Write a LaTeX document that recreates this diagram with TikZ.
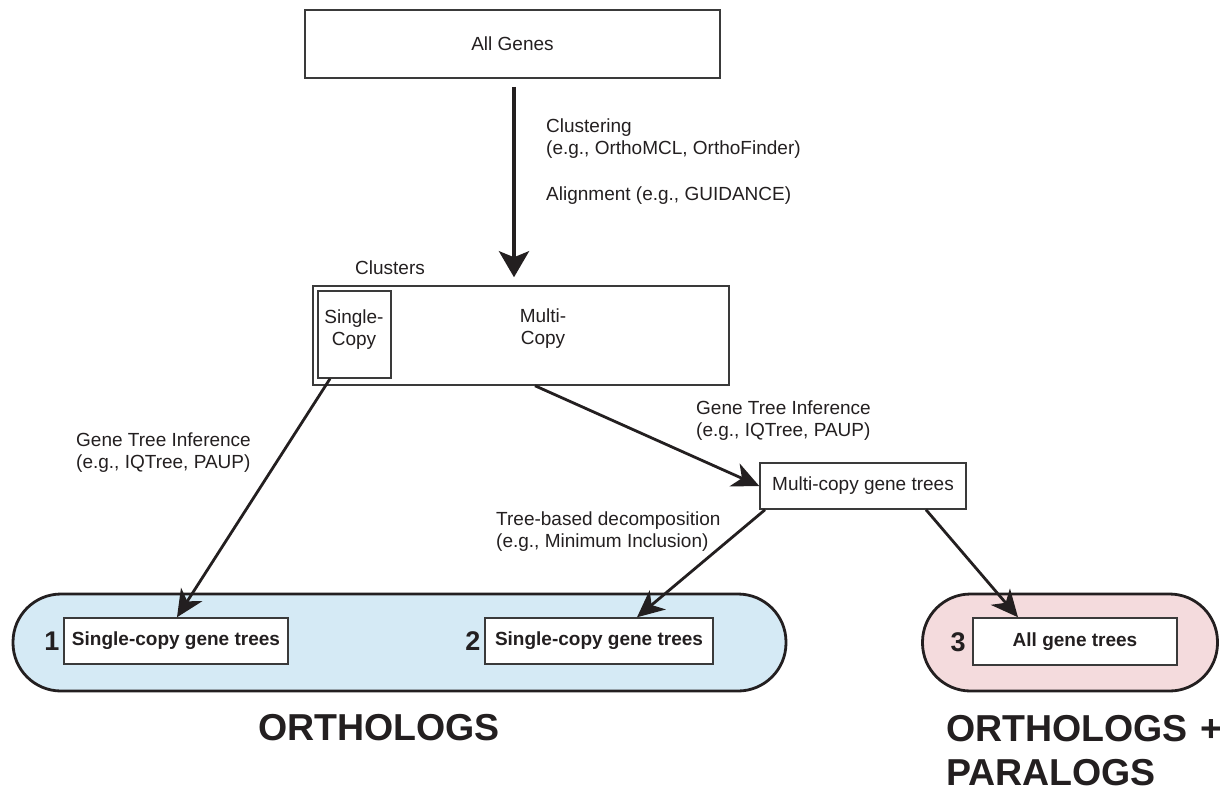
\documentclass[tikz,border=0pt]{standalone}
\usepackage{fontspec}
\setmainfont{Liberation Sans}
\usetikzlibrary{arrows.meta}
\definecolor{ink}{HTML}{231F20}
\definecolor{boxline}{HTML}{3A3A3A}
\definecolor{orthblue}{HTML}{D5EAF5}
\definecolor{parapink}{HTML}{F4DBDD}
\tikzset{
  plainbox/.style={draw=boxline, line width=1.5pt, fill=white, inner sep=0pt, text=ink,
    font=\fontsize{19}{22}\selectfont},
  treebox/.style={plainbox, font=\fontsize{19}{22}\selectfont\bfseries},
  group/.style={draw=ink, line width=2.8pt, inner sep=0pt, rounded corners=48pt},
  lbl/.style={text=ink, font=\fontsize{19}{22}\selectfont, align=left, inner sep=0pt},
  clbl/.style={text=ink, font=\fontsize{19}{22}\selectfont, align=center, inner sep=0pt},
  num/.style={text=ink, font=\fontsize{27}{30}\selectfont\bfseries, inner sep=0pt},
  big/.style={text=ink, font=\fontsize{37.5}{44}\selectfont\bfseries, align=left, inner sep=0pt},
  flow/.style={draw=ink, line width=2.8pt, -{Stealth[length=27pt,width=25pt,inset=8pt]}},
  mainflow/.style={draw=ink, line width=4pt, -{Stealth[length=26pt,width=30pt,inset=6pt]}}
}
\begin{document}
\begin{tikzpicture}[x=1pt,y=-1pt]
\useasboundingbox (0,0) rectangle (1220,796);
% containers
\node[group, fill=orthblue, minimum width=773pt, minimum height=97pt] (orth) at (399.5,642.5) {};
\node[group, fill=parapink, minimum width=295pt, minimum height=97pt] (para) at (1070,642.5) {};
% boxes
\node[plainbox, minimum width=415pt, minimum height=68pt] (all) at (512.5,44) {All Genes};
\node[plainbox, minimum width=416pt, minimum height=99pt] (clu) at (521,335.5) {};
\node[plainbox, minimum width=73pt, minimum height=87pt] (sc) at (354.5,334.5) {};
\node[clbl] (sctext) at (354,330) {Single-\\Copy};
\node[clbl] (mctext) at (543,328.5) {Multi-\\Copy};
\node[clbl, anchor=center] (clulbl) at (390,267.5) {Clusters};
\node[plainbox, minimum width=206pt, minimum height=46pt] (mc) at (863,486) {Multi-copy gene trees};
\node[treebox, minimum width=224pt, minimum height=46pt] (b1) at (176,641) {Single-copy gene trees};
\node[treebox, minimum width=228pt, minimum height=46pt] (b2) at (599,641) {Single-copy gene trees};
\node[treebox, minimum width=204pt, minimum height=47pt] (b3) at (1075,641.5) {All gene trees};
\node[num] (n1) at (52,641) {1};
\node[num] (n2) at (473,641) {2};
\node[num] (n3) at (958,642) {3};
% labels
\node[lbl, anchor=west] (l1) at (546,139) {Clustering\\(e.g., OrthoMCL, OrthoFinder)};
\node[lbl, anchor=west] (l2) at (546,196) {Alignment (e.g., GUIDANCE)};
\node[lbl, anchor=west] (l3) at (76,453) {Gene Tree Inference\\(e.g., IQTree, PAUP)};
\node[lbl, anchor=west] (l4) at (696,421) {Gene Tree Inference\\(e.g., IQTree, PAUP)};
\node[lbl, anchor=west] (l5) at (496,531.5) {Tree-based decomposition\\(e.g., Minimum Inclusion)};
\node[big, anchor=center] (orthlbl) at (379,728) {ORTHOLOGS};
\node[big, anchor=north west, text width=300pt] (paralbl) at (946,715) {ORTHOLOGS +\\PARALOGS};
% connectors
\draw[mainflow, shorten <=8pt, shorten >=8pt] ([xshift=1.5pt]all.south) -- ([xshift=-7pt]clu.north);
\draw[flow] ([xshift=-24.5pt]sc.south) -- ([xshift=1pt]b1.north);
\draw[flow] ([xshift=14pt]clu.south) -- (mc.west);
\draw[flow] ([xshift=-98pt]mc.south) -- ([xshift=38pt]b2.north);
\draw[flow] ([xshift=63pt]mc.south) -- ([xshift=-57pt]b3.north);
\end{tikzpicture}
\end{document}
